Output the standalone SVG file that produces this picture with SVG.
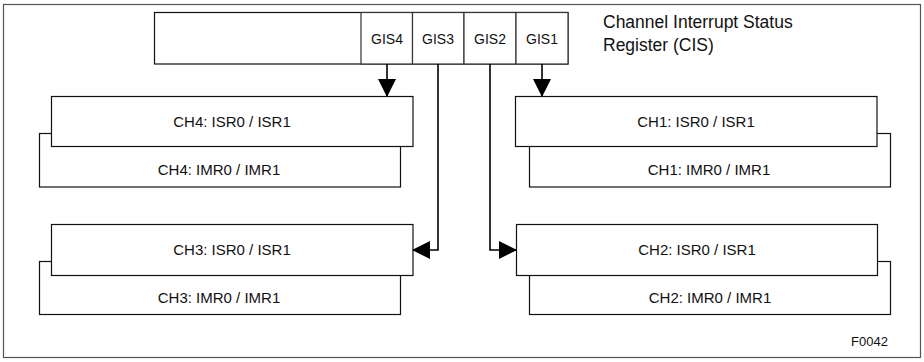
<svg xmlns="http://www.w3.org/2000/svg" width="924" height="362" viewBox="0 0 924 362">
<style>
.frame{fill:#fff;stroke:#555;stroke-width:1.2}
.box{fill:#fff;stroke:#111;stroke-width:1.2}
.cell{fill:#fff;stroke:#333;stroke-width:1.2}
.t{font-family:"Liberation Sans",Arial,sans-serif;font-size:15px;fill:#111;text-anchor:middle}
.g{font-family:"Liberation Sans",Arial,sans-serif;font-size:14px;fill:#111;text-anchor:middle}
.title{font-family:"Liberation Sans",Arial,sans-serif;font-size:17.5px;fill:#111}
.fig{font-family:"Liberation Sans",Arial,sans-serif;font-size:13px;fill:#111}
.conn{fill:none;stroke:#000;stroke-width:1.6;marker-end:url(#ah)}
</style>
<defs>
<marker id="ah" viewBox="0 0 18 18" refX="17" refY="9" markerWidth="18" markerHeight="18" markerUnits="userSpaceOnUse" orient="auto">
<path d="M0,0 L18,9 L0,18 z" fill="#000"/>
</marker>
</defs>
<rect class="frame" x="3.5" y="4.5" width="917" height="353"/>
<g id="register">
<rect class="box" x="154.5" y="12.5" width="413.5" height="51.5"/>
<rect class="cell" x="361" y="12.5" width="51.5" height="51.5"/>
<rect class="cell" x="412.5" y="12.5" width="51.5" height="51.5"/>
<rect class="cell" x="464" y="12.5" width="52" height="51.5"/>
<rect class="cell" x="516" y="12.5" width="52" height="51.5"/>
<text class="g" x="387" y="44">GIS4</text>
<text class="g" x="438" y="44">GIS3</text>
<text class="g" x="490" y="44">GIS2</text>
<text class="g" x="542" y="44">GIS1</text>
</g>
<g id="title">
<text class="title" x="603" y="28">Channel Interrupt Status</text>
<text class="title" x="603" y="51">Register (CIS)</text>
</g>
<g id="ch4">
<rect class="box" x="39.5" y="133.5" width="361" height="53.5"/>
<rect class="box" x="51.5" y="96.5" width="361.5" height="50"/>
<text class="t" x="232" y="127">CH4: ISR0 / ISR1</text>
<text class="t" x="219" y="175">CH4: IMR0 / IMR1</text>
</g>
<g id="ch1">
<rect class="box" x="529.5" y="133.5" width="361" height="53.5"/>
<rect class="box" x="515.5" y="96.5" width="361.5" height="50"/>
<text class="t" x="696" y="127">CH1: ISR0 / ISR1</text>
<text class="t" x="709" y="175">CH1: IMR0 / IMR1</text>
</g>
<g id="ch3">
<rect class="box" x="39.5" y="261.5" width="361" height="53"/>
<rect class="box" x="51.5" y="224.5" width="361.5" height="51"/>
<text class="t" x="232" y="255">CH3: ISR0 / ISR1</text>
<text class="t" x="219" y="303">CH3: IMR0 / IMR1</text>
</g>
<g id="ch2">
<rect class="box" x="529.5" y="261.5" width="361" height="53"/>
<rect class="box" x="516.5" y="224.5" width="361" height="51"/>
<text class="t" x="697" y="255">CH2: ISR0 / ISR1</text>
<text class="t" x="710" y="303">CH2: IMR0 / IMR1</text>
</g>
<g id="connectors">
<path class="conn" d="M387,64 V96"/>
<path class="conn" d="M542,64 V96"/>
<path class="conn" d="M438,64 V250 H413"/>
<path class="conn" d="M490,64 V250 H516"/>
</g>
<text class="fig" x="851" y="346">F0042</text>
</svg>
